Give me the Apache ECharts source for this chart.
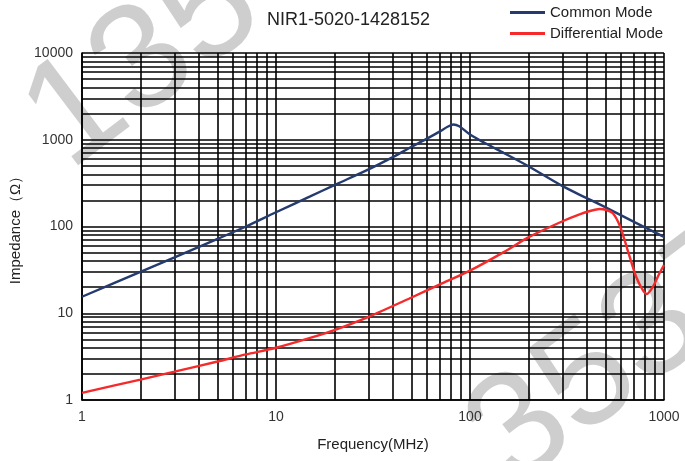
<!DOCTYPE html>
<html>
<head>
<meta charset="utf-8">
<script src="https://cdn.jsdelivr.net/npm/echarts@6/dist/echarts.min.js"></script>
<style>
  html, body { margin: 0; padding: 0; background: #fff; }
  #chart { width: 685px; height: 461px; }
</style>
</head>
<body>
<div id="chart"></div>
<script>
  // 共模 / 差模 阻抗曲线
  var cmFreq = [1, 2, 3, 5, 7, 10, 15, 20, 30, 40, 50, 60, 70, 77, 82, 88, 100, 120, 150, 200, 300, 400, 500, 700, 1000];
  var cmImp = [15.5, 30, 44, 72, 100, 146, 222, 300, 455, 630, 830, 1030, 1250, 1420, 1500, 1430, 1150, 910, 700, 495, 292, 212, 166, 113, 76];

  var dmFreq = [1, 2, 3, 5, 7, 10, 15, 20, 30, 50, 70, 100, 150, 200, 300, 370, 420, 466, 505, 545, 590, 626, 665, 720, 778, 815, 876, 948, 1000];
  var dmImp = [1.21, 1.72, 2.12, 2.78, 3.35, 4.0, 5.2, 6.4, 9.1, 15.2, 21.5, 31, 51, 75, 115, 139, 152, 159, 155, 142, 104, 70, 45, 26, 18.5, 16.7, 20.2, 28.9, 36];

  // 次网格线 (2..9 每个十倍频)
  var xMinor = [2, 3, 4, 5, 6, 7, 8, 9, 20, 30, 40, 50, 60, 70, 80, 90, 200, 300, 400, 500, 600, 700, 800, 900];
  var yMinor = [2, 3, 4, 5, 6, 7, 8, 9, 20, 30, 40, 50, 60, 70, 80, 90, 200, 300, 400, 500, 600, 700, 800, 900,
                2000, 3000, 4000, 5000, 6000, 7000, 8000, 9000];

  var seriesNames = ['Common Mode', 'Differential Mode'];
  var titleText = 'NIR1-5020-1428152';

  function pairs(xs, ys) {
    var out = [];
    xs.forEach(function(x, i) { out.push([x, ys[i]]); });
    return out;
  }

  var gridMarks = [];
  xMinor.forEach(function(v) { gridMarks.push({ xAxis: v }); });
  yMinor.forEach(function(v) { gridMarks.push({ yAxis: v }); });

  var FONT = '"Liberation Sans", Arial, sans-serif';
  var lineBlack = { color: '#000', width: 1.6, type: 'solid' };
  var wmStyle = { fill: 'rgba(190,190,190,0.75)', fontSize: 150, fontFamily: FONT };
  var wmRot = 37 * Math.PI / 180;

  var myChart = echarts.init(document.getElementById('chart'));
  var option = {
    animation: false,
    textStyle: { fontFamily: FONT },
    title: {
      text: titleText,
      left: 262,
      top: 6,
      textStyle: { fontSize: 18, fontWeight: 'normal', color: '#222', fontFamily: FONT }
    },
    legend: {
      data: seriesNames,
      orient: 'vertical',
      left: 505,
      top: 0,
      itemWidth: 35,
      itemHeight: 3,
      itemGap: 6,
      icon: 'rect',
      textStyle: { fontSize: 15, color: '#222', fontFamily: FONT }
    },
    grid: { left: 81, right: 21, top: 53, bottom: 61 },
    xAxis: {
      type: 'log',
      logBase: 10,
      min: 1,
      max: 1000,
      name: 'Frequency(MHz)',
      nameLocation: 'middle',
      nameGap: 37,
      nameTextStyle: { fontSize: 15, color: '#222', fontFamily: FONT },
      axisLine: { lineStyle: lineBlack },
      axisTick: { show: false },
      axisLabel: { fontSize: 14, color: '#333', margin: 10, fontFamily: FONT, formatter: function(v) { return String(v); } },
      splitLine: { show: true, lineStyle: lineBlack }
    },
    yAxis: {
      type: 'log',
      logBase: 10,
      min: 1,
      max: 10000,
      name: 'Impedance（Ω）',
      nameLocation: 'middle',
      nameGap: 59,
      nameTextStyle: { fontSize: 15, color: '#222', fontFamily: FONT },
      axisLine: { show: true, lineStyle: lineBlack },
      axisTick: { show: false },
      axisLabel: { fontSize: 14, color: '#333', margin: 9, fontFamily: FONT, formatter: function(v) { return String(v); } },
      splitLine: { show: true, lineStyle: lineBlack }
    },
    graphic: [
      { type: 'text', z: -10, x: -1, y: 79, rotation: wmRot, style: Object.assign({ text: '135' }, wmStyle) },
      { type: 'text', z: -10, x: 443, y: 396, rotation: wmRot, style: Object.assign({ text: '3537' }, wmStyle) }
    ],
    series: [
      {
        name: 'gridlines',
        type: 'line',
        data: [[1, 1]],
        symbol: 'none',
        lineStyle: { width: 0 },
        silent: true,
        z: 1,
        markLine: {
          silent: true,
          symbol: ['none', 'none'],
          label: { show: false },
          lineStyle: lineBlack,
          emphasis: { disabled: true },
          data: gridMarks
        }
      },
      {
        name: seriesNames[0],
        type: 'line',
        data: pairs(cmFreq, cmImp),
        smooth: 0.3,
        symbol: 'none',
        z: 5,
        itemStyle: { color: '#253a6e' },
        lineStyle: { color: '#253a6e', width: 2.4 }
      },
      {
        name: seriesNames[1],
        type: 'line',
        data: pairs(dmFreq, dmImp),
        smooth: 0.25,
        symbol: 'none',
        z: 5,
        itemStyle: { color: '#f52a2a' },
        lineStyle: { color: '#f52a2a', width: 2.4 }
      }
    ]
  };
  myChart.setOption(option);
</script>
</body>
</html>
